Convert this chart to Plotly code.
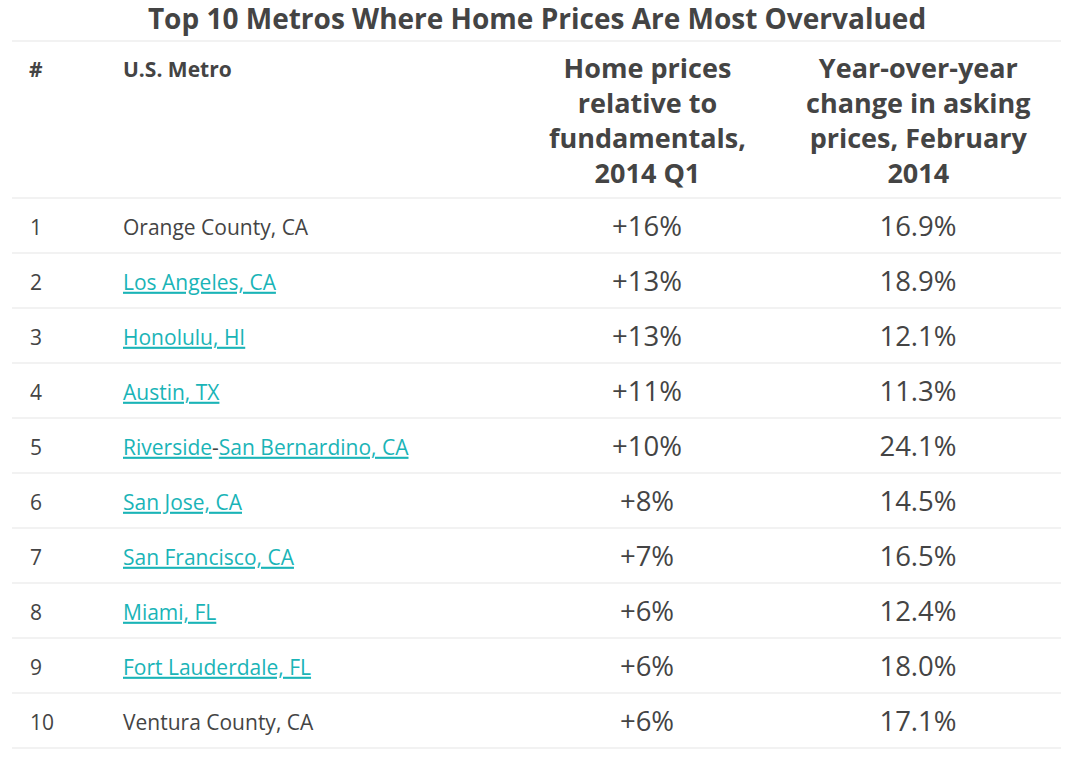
import plotly.graph_objects as go

# ---- data ----
ranks = [1, 2, 3, 4, 5, 6, 7, 8, 9, 10]
metros = ["Orange County, CA", "Los Angeles, CA", "Honolulu, HI", "Austin, TX",
          "Riverside-San Bernardino, CA", "San Jose, CA", "San Francisco, CA",
          "Miami, FL", "Fort Lauderdale, FL", "Ventura County, CA"]
linked = [False, True, True, True, True, True, True, True, True, False]
overvaluation = [16, 13, 13, 11, 10, 8, 7, 6, 6, 6]
yoy_change = [16.9, 18.9, 12.1, 11.3, 24.1, 14.5, 16.5, 12.4, 18.0, 17.1]
col_headers = ["#", "U.S. Metro",
               "Home prices<br>relative to<br>fundamentals,<br>2014 Q1",
               "Year-over-year<br>change in asking<br>prices, February<br>2014"]
title = "Top 10 Metros Where Home Prices Are Most Overvalued"

# ---- style ----
W, H = 1074, 760
FONT = "Open Sans"
TEXT = "#444444"
LINK = "#1ab4b7"
GRID = "#e6e6e6"
ROW_H = 55.0
ROW1_PX = 225.5
TEXT_SHIFT_PX = 4
X_RANK, X_METRO, X_C1, X_C2 = 30, 123, 647, 918
X_LEFT, X_RIGHT = 12, 1061


def px_to_row(px):
    return 1 + (px - ROW1_PX) / ROW_H


def fmt_metro(name, link):
    if not link:
        return name
    if "-" in name and name.startswith("Riverside"):
        a, b = name.split("-", 1)
        return (f"<span style='color:{LINK}'><u>{a}</u></span>-"
                f"<span style='color:{LINK}'><u>{b}</u></span>")
    return f"<span style='color:{LINK}'><u>{name}</u></span>"


fig = go.Figure()

# separator lines (below header and below each row) on the row axis y2
lx, ly = [], []
for b in [0.5] + [r + 0.5 for r in ranks]:
    lx += [X_LEFT, X_RIGHT, None]
    ly += [b, b, None]
top = px_to_row(41)
lx += [X_LEFT, X_RIGHT, None]
ly += [top, top, None]
fig.add_trace(go.Scatter(x=lx, y=ly, mode="lines", yaxis="y2",
                         line=dict(color=GRID, width=1.2), hoverinfo="skip"))

# rank column
fig.add_trace(go.Scatter(x=[X_RANK] * len(ranks), y=ranks, mode="text",
                         text=[str(r) for r in ranks], textposition="middle right",
                         textfont=dict(family=FONT, size=21, color=TEXT)))
# metro column
fig.add_trace(go.Scatter(x=[X_METRO] * len(ranks), y=ranks, mode="text",
                         text=[fmt_metro(m, l) for m, l in zip(metros, linked)],
                         textposition="middle right",
                         textfont=dict(family=FONT, size=21, color=TEXT)))
# value columns
fig.add_trace(go.Scatter(x=[X_C1] * len(ranks), y=ranks, mode="text",
                         text=[f"+{v}%" for v in overvaluation], textposition="middle center",
                         textfont=dict(family=FONT, size=27.5, color=TEXT)))
fig.add_trace(go.Scatter(x=[X_C2] * len(ranks), y=ranks, mode="text",
                         text=[f"{v:.1f}%" for v in yoy_change], textposition="middle center",
                         textfont=dict(family=FONT, size=27.5, color=TEXT)))

# header labels
hdr_small = dict(family=FONT, size=21, color=TEXT, weight="bold")
hdr_big = dict(family=FONT, size=27, color=TEXT, weight="bold")
fig.add_annotation(x=X_RANK - 3, y=px_to_row(69), xref="x", yref="y2", text=col_headers[0],
                   showarrow=False, xanchor="left", yanchor="middle", font=hdr_small)
fig.add_annotation(x=X_METRO - 2, y=px_to_row(69), xref="x", yref="y2", text=col_headers[1],
                   showarrow=False, xanchor="left", yanchor="middle", font=hdr_small)
for xc, hdr in [(X_C1, col_headers[2]), (X_C2, col_headers[3])]:
    fig.add_annotation(x=xc, y=px_to_row(120), xref="x", yref="y2", text=hdr,
                       showarrow=False, xanchor="center", yanchor="middle", font=hdr_big)

shift = TEXT_SHIFT_PX / ROW_H
fig.update_layout(
    width=W, height=H,
    margin=dict(l=0, r=0, t=0, b=0),
    paper_bgcolor="white", plot_bgcolor="white",
    showlegend=False,
    title=dict(text=f"<b>{title}</b>", x=0.5, xanchor="center",
               y=1 - 19 / H, yanchor="middle", yref="paper",
               font=dict(family=FONT, size=28, color=TEXT)),
    xaxis=dict(range=[0, W], visible=False, fixedrange=True),
    yaxis=dict(range=[px_to_row(H) - shift, px_to_row(0) - shift], visible=False, fixedrange=True),
    yaxis2=dict(range=[px_to_row(H), px_to_row(0)], visible=False, fixedrange=True,
                overlaying="y"),
)

fig.write_html("out.html", config={"displayModeBar": False},
               post_script="document.body.style.margin='0';document.body.style.overflow='hidden';")
